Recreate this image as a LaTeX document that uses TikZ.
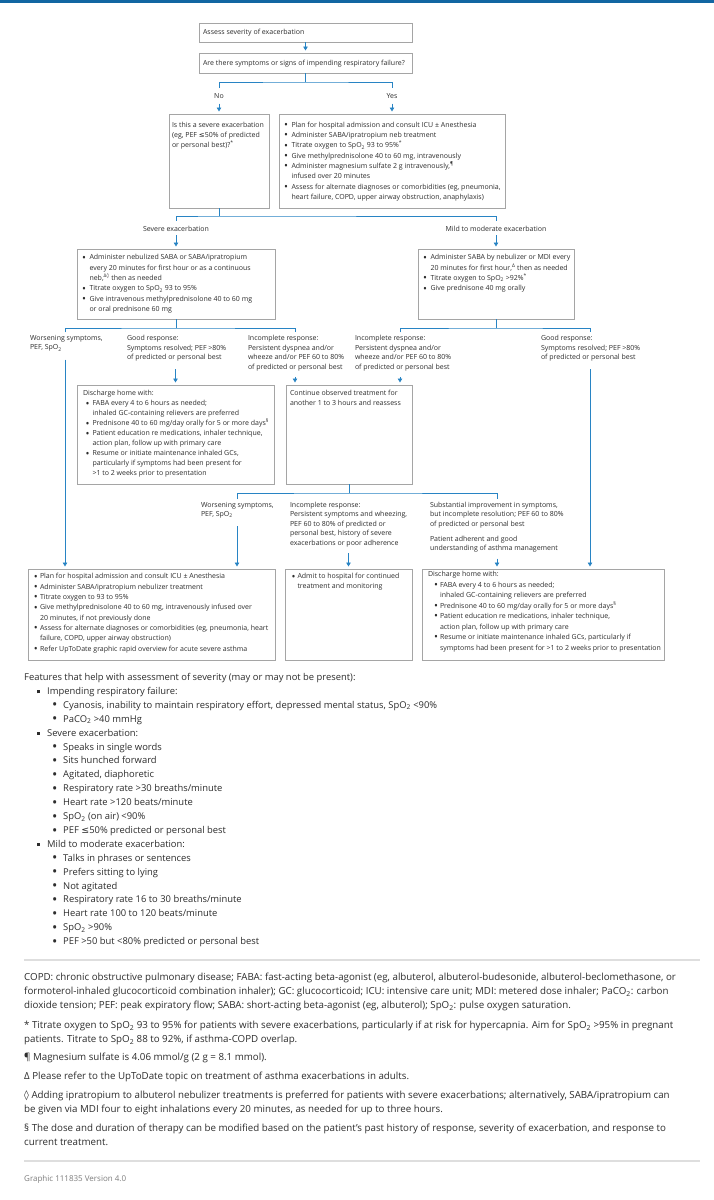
\documentclass[tikz,border=0pt]{standalone}
\usepackage{graphicx}
\usepackage{fontspec}
\setmainfont{Open Sans}
\newfontfamily\dejavu{DejaVu Sans}
\usetikzlibrary{arrows.meta}
\definecolor{conn}{RGB}{40,132,196}
\definecolor{topbar}{RGB}{18,102,162}
\definecolor{boxc}{RGB}{165,165,165}
\definecolor{txtc}{RGB}{45,45,45}
\definecolor{sepc}{RGB}{222,222,222}
\definecolor{grayt}{RGB}{125,125,125}
\newcommand{\spo}{SpO\textsubscript{2}}
\newcommand{\pco}{PaCO\textsubscript{2}}
\newcommand{\sps}[1]{\textsuperscript{#1}}
\newcommand{\leqs}{{\dejavu ≤}}
\newcommand{\lozs}{{\dejavu ◊}}
\newcommand{\bdot}{\raisebox{-0.17em}{\scalebox{1.5}{\textbullet}}}
\newcommand{\bu}{\makebox[7.5pt][l]{\bdot}}
\newcommand{\ind}{\hspace*{7.5pt}}
\newcommand{\abu}{\makebox[6pt][l]{\bdot}}
\newcommand{\aind}{\hspace*{6pt}}
\newcommand{\dbu}{\hspace*{2.5pt}\makebox[7pt][l]{\bdot}}
\newcommand{\dind}{\hspace*{9.5pt}}
\newcommand{\ebu}{\hspace*{6pt}\makebox[6pt][l]{\bdot}}
\newcommand{\eind}{\hspace*{12pt}}
\newcommand{\fa}{\hspace*{12.5pt}\makebox[10.5pt][l]{\rule[0.22ex]{3pt}{3pt}}}
\newcommand{\fb}{\hspace*{28pt}\makebox[11pt][l]{\bdot}}
\newcommand{\dfont}{\fontsize{7}{10.3}\selectfont}
\newcommand{\lfont}{\fontsize{7}{9.5}\selectfont}
\newcommand{\ffont}{\fontsize{9.4}{13.9}\selectfont}
\newcommand{\nfont}{\fontsize{9.75}{14}\selectfont}
\tikzset{
  ln/.style={draw=conn, line width=0.9pt},
  arr/.style={ln, -{Triangle[width=4.5pt,length=4pt]}, shorten >=2.5pt},
  box/.style={draw=boxc, line width=0.8pt, rectangle, inner sep=0pt, outer sep=0pt, anchor=north west},
  dtxt/.style={font=\dfont, text=txtc, align=left, inner sep=0pt, outer sep=0pt, anchor=north west, execute at begin node={\rule{0pt}{5.6pt}}},
  ltxt/.style={dtxt, font=\lfont},
  ftxt/.style={font=\ffont, text=txtc, align=left, inner sep=0pt, anchor=north west, execute at begin node={\rule{0pt}{7.5pt}}},
  ntxt/.style={font=\nfont, text=txtc, align=left, inner sep=0pt, anchor=north west, execute at begin node={\rule{0pt}{7.7pt}}},
  sepline/.style={draw=sepc, line width=2pt}
}
\begin{document}
\begin{tikzpicture}[x=1pt, y=-1pt]
\useasboundingbox (0,0) rectangle (714,1200);
\fill[white] (0,0) rectangle (714,1200);
\fill[topbar] (0,0) rectangle (714,3);

% boxes
\node[box, minimum width=213, minimum height=19] (b1) at (199,23) {};
\node[box, minimum width=213, minimum height=20] (b2) at (199,53) {};
\node[box, minimum width=100, minimum height=94] (b3) at (169,114) {};
\node[box, minimum width=226, minimum height=94] (b4) at (279,114) {};
\node[box, minimum width=198, minimum height=70] (b5) at (77,249) {};
\node[box, minimum width=156, minimum height=70] (b6) at (418,249) {};
\node[box, minimum width=197, minimum height=99] (bD) at (77,385) {};
\node[box, minimum width=126, minimum height=99] (bC) at (286,385) {};
\node[box, minimum width=247, minimum height=91] (bA) at (28,569) {};
\node[box, minimum width=127, minimum height=91] (bB) at (285,569) {};
\node[box, minimum width=242, minimum height=91] (bE) at (422,569) {};

% box texts
\node[dtxt] (b1t) at (203,29.3) {Assess severity of exacerbation};
\node[dtxt] (b2t) at (203,59.6) {Are there symptoms or signs of impending respiratory failure?};
\node[dtxt] (b3t) at (172,122) {Is this a severe exacerbation\\(eg, PEF \leqs50\% of predicted\\or personal best)?\sps{*}};
\node[dtxt] (b4t) at (284,122) {\bu Plan for hospital admission and consult ICU ± Anesthesia\\
\bu Administer SABA/ipratropium neb treatment\\
\bu Titrate oxygen to \spo{} 93 to 95\%\sps{*}\\
\bu Give methylprednisolone 40 to 60 mg, intravenously\\
\bu Administer magnesium sulfate 2 g intravenously,\sps{¶}\\
\ind infused over 20 minutes\\
\bu Assess for alternate diagnoses or comorbidities (eg, pneumonia,\\
\ind heart failure, COPD, upper airway obstruction, anaphylaxis)};
\node[dtxt] (b5t) at (82,254.6) {\bu Administer nebulized SABA or SABA/ipratropium\\
\ind every 20 minutes for first hour or as a continuous\\
\ind neb,\sps{Δ\lozs} then as needed\\
\bu Titrate oxygen to \spo{} 93 to 95\%\\
\bu Give intravenous methylprednisolone 40 to 60 mg\\
\ind or oral prednisone 60 mg};
\node[dtxt] (b6t) at (423,254.6) {\bu Administer SABA by nebulizer or MDI every\\
\ind 20 minutes for first hour,\sps{Δ} then as needed\\
\bu Titrate oxygen to \spo{} >92\%\sps{*}\\
\bu Give prednisone 40 mg orally};
\node[dtxt, font=\fontsize{7}{10}\selectfont] (bDt) at (83,390.6) {Discharge home with:\\
\dbu FABA every 4 to 6 hours as needed;\\
\dind inhaled GC-containing relievers are preferred\\
\dbu Prednisone 40 to 60 mg/day orally for 5 or more days\sps{§}\\
\dbu Patient education re medications, inhaler technique,\\
\dind action plan, follow up with primary care\\
\dbu Resume or initiate maintenance inhaled GCs,\\
\dind particularly if symptoms had been present for\\
\dind >1 to 2 weeks prior to presentation};
\node[dtxt, font=\fontsize{7}{9.2}\selectfont] (bCt) at (290,390.6) {Continue observed treatment for\\another 1 to 3 hours and reassess};
\node[dtxt] (bAt) at (34,573.6) {\abu Plan for hospital admission and consult ICU ± Anesthesia\\
\abu Administer SABA/ipratropium nebulizer treatment\\
\abu Titrate oxygen to 93 to 95\%\\
\abu Give methylprednisolone 40 to 60 mg, intravenously infused over\\
\aind 20 minutes, if not previously done\\
\abu Assess for alternate diagnoses or comorbidities (eg, pneumonia, heart\\
\aind failure, COPD, upper airway obstruction)\\
\abu Refer UpToDate graphic rapid overview for acute severe asthma};
\node[dtxt, font=\fontsize{7}{10}\selectfont] (bBt) at (291.5,573.6) {\abu Admit to hospital for continued\\\aind treatment and monitoring};
\node[dtxt, font=\fontsize{7}{10.5}\selectfont] (bEt) at (428,571.3) {Discharge home with:\\
\ebu FABA every 4 to 6 hours as needed;\\
\eind inhaled GC-containing relievers are preferred\\
\ebu Prednisone 40 to 60 mg/day orally for 5 or more days\sps{§}\\
\ebu Patient education re medications, inhaler technique,\\
\eind action plan, follow up with primary care\\
\ebu Resume or initiate maintenance inhaled GCs, particularly if\\
\eind symptoms had been present for >1 to 2 weeks prior to presentation};

% branch labels
\node[dtxt, anchor=north] (no) at (219,93) {No};
\node[dtxt, anchor=north] (yes) at (392,93) {Yes};
\node[dtxt, anchor=north] (sev) at (176,225.6) {Severe exacerbation};
\node[dtxt, anchor=north] (mild) at (496,225.6) {Mild to moderate exacerbation};
\node[ltxt] (wors1) at (30,335.3) {Worsening symptoms,\\PEF, \spo};
\node[ltxt] (good1) at (127,335.3) {Good response:\\Symptoms resolved; PEF >80\%\\of predicted or personal best};
\node[ltxt] (inc1) at (248,335.3) {Incomplete response:\\Persistent dyspnea and/or\\wheeze and/or PEF 60 to 80\%\\of predicted or personal best};
\node[ltxt] (inc2) at (355,335.3) {Incomplete response:\\Persistent dyspnea and/or\\wheeze and/or PEF 60 to 80\%\\of predicted or personal best};
\node[ltxt] (good2) at (541,335.3) {Good response:\\Symptoms resolved; PEF >80\%\\of predicted or personal best};
\node[ltxt] (m1) at (201,502) {Worsening symptoms,\\PEF, \spo};
\node[ltxt] (m2) at (290,502) {Incomplete response:\\Persistent symptoms and wheezing,\\PEF 60 to 80\% of predicted or\\personal best, history of severe\\exacerbations or poor adherence};
\node[ltxt] (m3) at (430,502) {Substantial improvement in symptoms,\\but incomplete resolution; PEF 60 to 80\%\\of predicted or personal best\\[5.5pt]Patient adherent and good\\understanding of asthma management};

% column coordinates
\coordinate (x1) at (65,0);
\coordinate (x3) at (295,0);
\coordinate (x4) at (400,0);
\coordinate (x5) at (590,0);
\coordinate (x6) at (237,0);
\coordinate (x7) at (497,0);

% connectors
\draw[arr] (b1) -- (b2);
\draw[ln] (b2.south) -- ++(0,9) coordinate (j1);
\draw[ln, shorten <=5pt, shorten >=5pt] (no.north) |- (j1) -| (yes.north);
\draw[arr, shorten <=5pt] (no.south) -- (b3.north);
\draw[arr, shorten <=5pt] (yes.south) -- (b4.north);

\draw[ln] (b3.south) -- ++(0,8) coordinate (j2);
\draw[ln, shorten <=5pt, shorten >=5pt] (sev.north) |- (j2) -| (mild.north);
\draw[arr, shorten <=4pt] (sev.south) -- (b5.north);
\draw[arr, shorten <=4pt] (mild.south) -- (b6.north);

\draw[ln] (b5.south) -- ++(0,9) coordinate (j3);
\draw[ln, shorten <=3pt, shorten >=3pt] (x1 |- wors1.north) |- (j3) -| (x3 |- inc1.north);
\draw[arr, shorten <=8pt] (x1 |- wors1.south) -- (x1 |- bA.north);
\draw[arr, shorten <=8pt] (bD.north |- good1.south) -- (bD.north);
\draw[arr, shorten <=6pt] (x3 |- inc1.south) -- (x3 |- bC.north);

\draw[ln] (b6.south) -- ++(0,9) coordinate (j4);
\draw[ln, shorten <=3pt, shorten >=3pt] (x4 |- inc2.north) |- (j4) -| (x5 |- good2.north);
\draw[arr, shorten <=6pt] (x4 |- inc2.south) -- (x4 |- bC.north);
\draw[arr, shorten <=8pt] (x5 |- good2.south) -- (x5 |- bE.north);

\draw[ln] (bC.south) -- ++(0,9) coordinate (j5);
\draw[ln, shorten <=3pt, shorten >=3pt] (x6 |- m1.north) |- (j5) -| (x7 |- m3.north);
\draw[arr, shorten <=8pt] (x6 |- m1.south) -- (x6 |- bA.north);
\draw[arr, shorten <=6pt] (bB.north |- m2.south) -- (bB.north);
\draw[arr, shorten <=6pt] (x7 |- m3.south) -- (x7 |- bE.north);

% features
\node[ftxt] (feat) at (24,673.1) {Features that help with assessment of severity (may or may not be present):\\
\fa Impending respiratory failure:\\
\fb Cyanosis, inability to maintain respiratory effort, depressed mental status, \spo{} <90\%\\
\fb \pco{} >40 mmHg\\
\fa Severe exacerbation:\\
\fb Speaks in single words\\
\fb Sits hunched forward\\
\fb Agitated, diaphoretic\\
\fb Respiratory rate >30 breaths/minute\\
\fb Heart rate >120 beats/minute\\
\fb \spo{} (on air) <90\%\\
\fb PEF \leqs50\% predicted or personal best\\
\fa Mild to moderate exacerbation:\\
\fb Talks in phrases or sentences\\
\fb Prefers sitting to lying\\
\fb Not agitated\\
\fb Respiratory rate 16 to 30 breaths/minute\\
\fb Heart rate 100 to 120 beats/minute\\
\fb \spo{} >90\%\\
\fb PEF >50 but <80\% predicted or personal best};

% footnotes
\draw[sepline] (24,960) -- (700,960);
\node[ntxt] (fn1) at (24,972.9) {COPD: chronic obstructive pulmonary disease; FABA: fast-acting beta-agonist (eg, albuterol, albuterol-budesonide, albuterol-beclomethasone, or\\
formoterol-inhaled glucocorticoid combination inhaler); GC: glucocorticoid; ICU: intensive care unit; MDI: metered dose inhaler; \pco: carbon\\
dioxide tension; PEF: peak expiratory flow; SABA: short-acting beta-agonist (eg, albuterol); \spo: pulse oxygen saturation.};
\node[ntxt] (fn2) at (24,1020.9) {* Titrate oxygen to \spo{} 93 to 95\% for patients with severe exacerbations, particularly if at risk for hypercapnia. Aim for \spo{} >95\% in pregnant\\
patients. Titrate to \spo{} 88 to 92\%, if asthma-COPD overlap.};
\node[ntxt] (fn3) at (24,1052.9) {¶ Magnesium sulfate is 4.06 mmol/g (2 g = 8.1 mmol).};
\node[ntxt] (fn4) at (24,1071.9) {Δ Please refer to the UpToDate topic on treatment of asthma exacerbations in adults.};
\node[ntxt] (fn5) at (24,1090.9) {\lozs{} Adding ipratropium to albuterol nebulizer treatments is preferred for patients with severe exacerbations; alternatively, SABA/ipratropium can\\
be given via MDI four to eight inhalations every 20 minutes, as needed for up to three hours.};
\node[ntxt] (fn6) at (24,1123.9) {§ The dose and duration of therapy can be modified based on the patient's past history of response, severity of exacerbation, and response to\\
current treatment.};
\draw[sepline] (24,1161) -- (700,1161);
\node[ntxt, font=\fontsize{8}{10}\selectfont, text=grayt, execute at begin node={\rule{0pt}{6.4pt}}] (graphic) at (24,1173.8) {Graphic 111835 Version 4.0};
\end{tikzpicture}
\end{document}
